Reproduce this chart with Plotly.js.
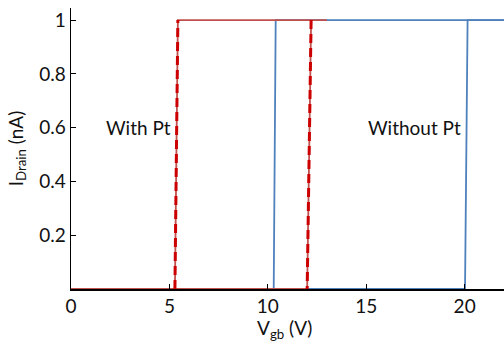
<!DOCTYPE html>
<html>
<head>
<meta charset="utf-8">
<script src="https://cdn.plot.ly/plotly-3.0.1.min.js"></script>
<style>html,body{margin:0;padding:0;background:#fff;}#chart{width:504px;height:341px;}</style>
</head>
<body>
<div id="chart"></div>
<script>
// With Pt (red): up-sweep and down-sweep
const withPtUpX = [0, 5.28, 5.43, 13.0];
const withPtUpY = [0, 0, 1, 1];
const withPtDownX = [12.2, 12.0, 0];
const withPtDownY = [1, 0, 0];
// Without Pt (blue)
const withoutPtUpX = [10.3, 20.02, 20.15, 22.0];
const withoutPtUpY = [0, 0, 1, 1];
const withoutPtDownX = [22.0, 10.4, 10.3];
const withoutPtDownY = [1, 1, 0];
// vertical transitions (dashed red)
const redJump1X = [5.28, 5.43];
const redJump1Y = [0, 1];
const redJump2X = [12.2, 12.0];
const redJump2Y = [1, 0];

const yTickVals = [0.2, 0.4, 0.6, 0.8, 1];
const yTickText = ["0.2", "0.4", "0.6", "0.8", "1"];
const xTickVals = [0, 5, 10, 15, 20];

const red = '#c0504d';
const redDark = '#cc0000';
const blue = '#4f81bd';

const traces = [
  {x: withoutPtUpX, y: withoutPtUpY, mode: 'lines', line: {color: blue, width: 1.8}, hoverinfo: 'skip'},
  {x: withoutPtDownX, y: withoutPtDownY, mode: 'lines', line: {color: blue, width: 1.8}, hoverinfo: 'skip'},
  {x: withPtUpX, y: withPtUpY, mode: 'lines', line: {color: red, width: 1.8}, hoverinfo: 'skip'},
  {x: withPtDownX, y: withPtDownY, mode: 'lines', line: {color: red, width: 1.8}, hoverinfo: 'skip'},
  {x: redJump1X, y: redJump1Y, mode: 'lines', line: {color: redDark, width: 3, dash: '9px,5px'}, hoverinfo: 'skip'},
  {x: redJump2X, y: redJump2Y, mode: 'lines', line: {color: redDark, width: 3, dash: '9px,5px'}, hoverinfo: 'skip'}
];

const fam = 'Lato, "Open Sans", sans-serif';
const tf = {family: fam, size: 19, color: '#111'};

const layout = {
  width: 504, height: 341,
  margin: {l: 71, r: 0, t: 8, b: 52},
  paper_bgcolor: '#fff', plot_bgcolor: '#fff',
  showlegend: false,
  font: tf,
  xaxis: {
    range: [0, 22], showgrid: false, zeroline: false,
    showline: true, linecolor: '#000', linewidth: 1.5,
    ticks: 'inside', ticklen: 5, tickcolor: '#000', tickwidth: 1,
    tickvals: xTickVals, ticktext: xTickVals.map(String),
    tickfont: tf
  },
  yaxis: {
    range: [0, 1.045], showgrid: false, zeroline: false,
    showline: true, linecolor: '#000', linewidth: 1.5,
    ticks: 'inside', ticklen: 5, tickcolor: '#000', tickwidth: 1,
    tickvals: yTickVals, ticktext: yTickText,
    tickfont: tf,
    title: {text: 'I<sub>Drain</sub> (nA)', font: tf}
  },
  annotations: [
    {x: 3.43, y: 0.6, xref: 'x', yref: 'y', text: 'With Pt', showarrow: false, font: tf},
    {x: 17.46, y: 0.6, xref: 'x', yref: 'y', text: 'Without Pt', showarrow: false, font: tf},
    {x: 0.494, y: 0, xref: 'paper', yref: 'paper', xanchor: 'center', yanchor: 'top', yshift: -25,
     text: 'V<sub>gb</sub> (V)', showarrow: false, font: tf}
  ]
};

Plotly.newPlot('chart', traces, layout, {displayModeBar: false, staticPlot: true});
</script>
</body>
</html>
